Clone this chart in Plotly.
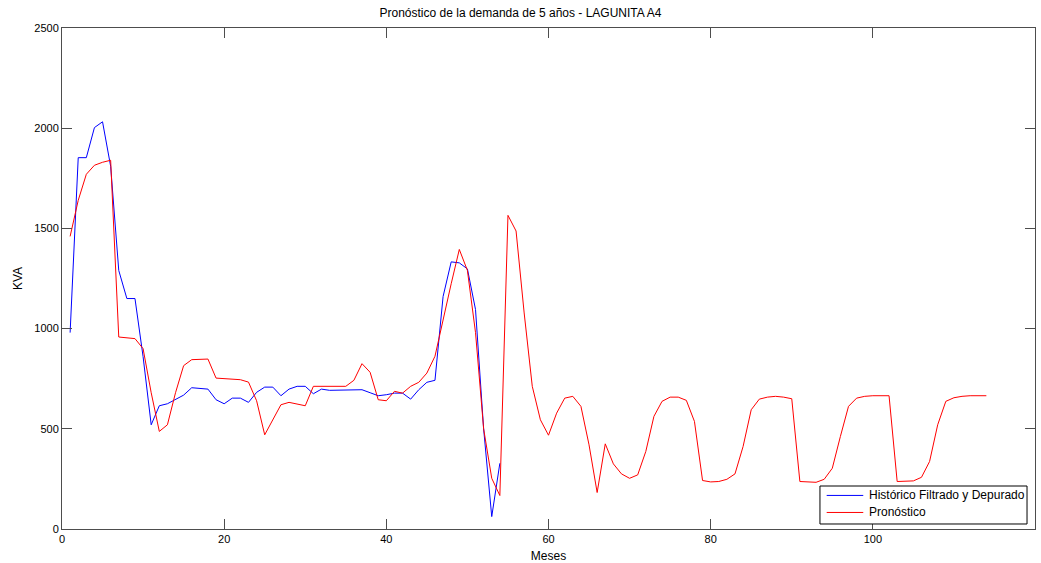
import plotly.graph_objects as go

months_hist = list(range(1, 55))
hist = [980, 1853, 1853, 2003, 2032, 1810, 1290, 1150, 1150, 860,
        520, 615, 625, 645, 668, 705, 700, 698, 645, 625,
        653, 653, 632, 682, 708, 708, 665, 698, 712, 712,
        675, 698, 692, 692, 695, 695, 695, 680, 665, 670,
        678, 678, 648, 695, 732, 742, 1160, 1333, 1328, 1298,
        1095, 500, 62, 328]

months_fc = list(range(1, 115))
fc = [1460, 1640, 1770, 1815, 1830, 1840, 958, 955, 950, 900,
      680, 487, 520, 680, 815, 845, 848, 848, 753, 750,
      750, 745, 733, 640, 470, 545, 620, 632, 625, 615,
      712, 712, 712, 712, 712, 742, 825, 782, 645, 640,
      687, 678, 712, 732, 778, 862, 1047, 1224, 1395, 1290,
      980, 500, 253, 167, 1565, 1487, 1078, 712, 545, 468,
      578, 653, 662, 612, 420, 182, 425, 325, 275, 253,
      270, 387, 562, 637, 658, 658, 642, 537, 242, 235,
      237, 248, 275, 412, 595, 648, 658, 662, 658, 650,
      237, 235, 233, 248, 303, 462, 612, 653, 662, 665,
      665, 665, 237, 237, 240, 258, 337, 520, 637, 655,
      662, 665, 665, 665]

title_text = "Pronóstico de la demanda de 5 años - LAGUNITA A4"
x_title = "Meses"
y_title = "KVA"
name_hist = "Histórico Filtrado y Depurado"
name_fc = "Pronóstico"
color_hist = "#0000ff"
color_fc = "#ff0000"

FONT = "Liberation Sans, Arial, sans-serif"
AXC = "#4d4d4d"

fig = go.Figure()
fig.add_trace(go.Scatter(x=months_hist, y=hist, mode="lines", name=name_hist,
                         line=dict(color=color_hist, width=1), showlegend=False))
fig.add_trace(go.Scatter(x=months_fc, y=fc, mode="lines", name=name_fc,
                         line=dict(color=color_fc, width=1), showlegend=False))

axis_common = dict(showline=True, linecolor=AXC, linewidth=1, mirror="ticks",
                   ticks="inside", ticklen=10, tickcolor=AXC, tickwidth=1,
                   showgrid=False, zeroline=False, automargin=False,
                   tickfont=dict(family=FONT, size=11, color="#000000"))

# Legend box (MATLAB style), drawn in paper coordinates
box = dict(x0=0.779, x1=0.9918, y0=0.010, y1=0.0858)
legend_items = [(name_hist, color_hist, 0.0670), (name_fc, color_fc, 0.0330)]
shapes = [dict(type="rect", xref="paper", yref="paper", layer="above",
               fillcolor="#ffffff", line=dict(color="#000000", width=1), **box)]
annotations = []
for name, col, yy in legend_items:
    shapes.append(dict(type="line", xref="paper", yref="paper", layer="above",
                       x0=0.7859, x1=0.8235, y0=yy, y1=yy, line=dict(color=col, width=1)))
    annotations.append(dict(text=name, xref="paper", yref="paper", x=0.8273, y=yy,
                            xanchor="left", yanchor="middle", showarrow=False,
                            font=dict(family=FONT, size=12, color="#000000")))

fig.update_layout(
    width=1041, height=563,
    margin=dict(l=62, r=6, t=28, b=34),
    paper_bgcolor="#ffffff", plot_bgcolor="#ffffff",
    title=dict(text=title_text, x=0.5, xanchor="center", y=1 - 13 / 563, yanchor="middle",
               font=dict(family=FONT, size=12, color="#000000")),
    xaxis=dict(range=[0, 120], tickvals=[0, 20, 40, 60, 80, 100, 120],
               title=dict(text=x_title, standoff=8, font=dict(family=FONT, size=12, color="#000000")),
               **axis_common),
    yaxis=dict(range=[0, 2500], tickvals=[0, 500, 1000, 1500, 2000, 2500],
               title=dict(text=y_title, standoff=9, font=dict(family=FONT, size=12, color="#000000")),
               **axis_common),
    shapes=shapes,
    annotations=annotations,
    showlegend=False,
)

fig.write_html("out.html")
